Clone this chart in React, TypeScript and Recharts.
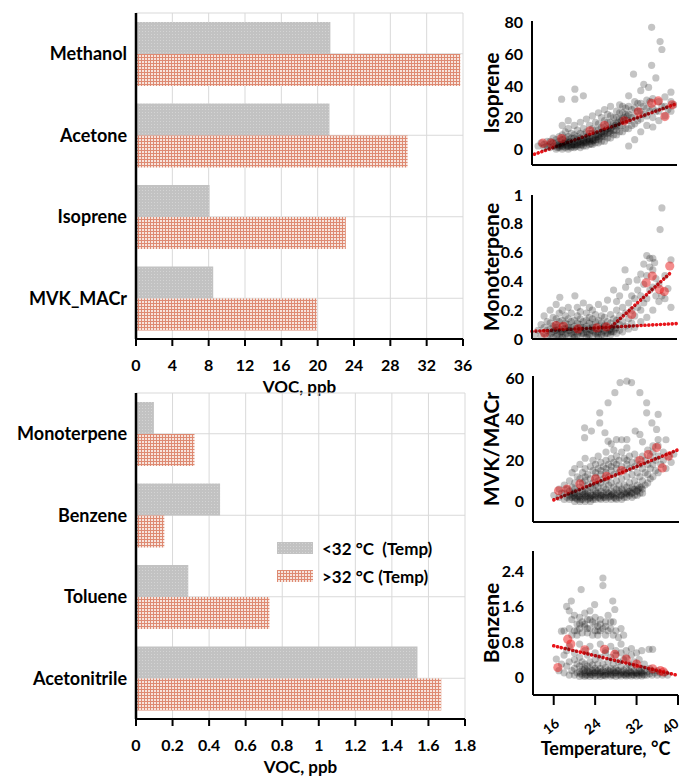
import React from "react";
import {
  BarChart,
  Bar,
  XAxis,
  YAxis,
  CartesianGrid,
  Legend,
  ScatterChart,
  Scatter,
  ReferenceLine,
} from "recharts";

// bar panels
const topCategories = ["Methanol", "Acetone", "Isoprene", "MVK_MACr"];
const topBelow32 = [21.4, 21.3, 8.1, 8.5];
const topAbove32 = [35.7, 29.9, 23.1, 19.9];
const topTicks = [0, 4, 8, 12, 16, 20, 24, 28, 32, 36];

const bottomCategories = ["Monoterpene", "Benzene", "Toluene", "Acetonitrile"];
const bottomBelow32 = [0.098, 0.46, 0.286, 1.54];
const bottomAbove32 = [0.32, 0.155, 0.73, 1.67];
const bottomTicks = [0, 0.2, 0.4, 0.6, 0.8, 1, 1.2, 1.4, 1.6, 1.8];

const seriesNames = ["<32 °C  (Temp)", ">32 °C (Temp)"];
const seriesFills = ["url(#grayDots)", "url(#redGrid)"];

// scatter panels: [temperature, value]
const isopreneGray = [
  [17, 2], [17.5, 4], [18, 1], [18, 3], [18.5, 5], [18.5, 2],
  [19, 1], [19, 3], [19, 5], [19.5, 2], [19.5, 4], [19.5, 7],
  [20, 0], [20, 2], [20, 4], [20, 6], [20.5, 1], [20.5, 3], [20.5, 5], [20.5, 8],
  [21, 0], [21, 2], [21, 4], [21, 6], [21, 9], [21.5, 1], [21.5, 3], [21.5, 5], [21.5, 7], [21.5, 11],
  [22, 0], [22, 2], [22, 4], [22, 6], [22, 8], [22, 13], [22.5, 1], [22.5, 3], [22.5, 5], [22.5, 7], [22.5, 10],
  [23, 1], [23, 3], [23, 5], [23, 7], [23, 9], [23, 15], [23.5, 2], [23.5, 4], [23.5, 6], [23.5, 8], [23.5, 12],
  [24, 1], [24, 3], [24, 5], [24, 7], [24, 10], [24, 17], [24.5, 2], [24.5, 4], [24.5, 6], [24.5, 9], [24.5, 13],
  [25, 2], [25, 4], [25, 6], [25, 8], [25, 11], [25, 19], [25.5, 3], [25.5, 5], [25.5, 7], [25.5, 10], [25.5, 15],
  [26, 3], [26, 5], [26, 7], [26, 10], [26, 13], [26, 21], [26.5, 4], [26.5, 6], [26.5, 9], [26.5, 12], [26.5, 17],
  [27, 4], [27, 6], [27, 9], [27, 12], [27, 16], [27, 23], [27.5, 5], [27.5, 8], [27.5, 11], [27.5, 14], [27.5, 20],
  [28, 5], [28, 8], [28, 11], [28, 14], [28, 18], [28, 25], [28.5, 7], [28.5, 10], [28.5, 13], [28.5, 17], [28.5, 22],
  [29, 7], [29, 10], [29, 13], [29, 17], [29, 21], [29, 27], [29.5, 9], [29.5, 12], [29.5, 16], [29.5, 20],
  [30, 9], [30, 12], [30, 16], [30, 20], [30, 24], [30.5, 11], [30.5, 15], [30.5, 19], [30.5, 23], [30.5, 28],
  [31, 11], [31, 15], [31, 19], [31, 23], [31, 27], [31.5, 13], [31.5, 18], [31.5, 22], [31.5, 26],
  [32, 2], [32, 13], [32, 18], [32, 22], [32, 27], [32, 33.7], [32.5, 15], [32.5, 20], [32.5, 25],
  [33, 6], [33, 16], [33, 21], [33, 26], [33, 30], [33.5, 18], [33.5, 24], [33.5, 29],
  [34, 11], [34, 19], [34, 24], [34, 29], [34, 37], [34.5, 41], [34.5, 22], [34.5, 27],
  [35, 15], [35, 21], [35, 26], [35, 31], [35.3, 39], [35.5, 24], [35.5, 30],
  [36, 14], [36, 20], [36, 26], [36, 32], [35.8, 53], [35.8, 77], [36.5, 45], [36.5, 24],
  [37, 18], [37, 24], [37, 30], [37.2, 68], [37.5, 63], [37.5, 27],
  [38, 21], [38, 27], [38, 33], [38.5, 25], [39, 24], [39, 30], [39, 36], [39.5, 28],
  [20.9, 31.6], [23.1, 37.9], [23.1, 31.6], [24.5, 33.7], [32.8, 47.4], [22, 18], [21, 15],
  [20.2, 1], [20.8, 2.5], [21.2, 3.5], [21.8, 2], [22.2, 4.5], [22.8, 3], [23.2, 1.5], [23.8, 5],
  [24.2, 2.5], [24.8, 4], [25.2, 6.5], [25.8, 3.5], [26.2, 5.5], [26.8, 8], [27.2, 7], [27.8, 9.5],
  [28.2, 12], [28.8, 11], [29.2, 14], [29.8, 15], [30.2, 17], [30.8, 18], [31.2, 20], [31.8, 21],
  [21, 1.5], [22, 1.5], [23, 2.5], [24, 4], [25, 5], [26, 6], [27, 8], [28, 9.5], [29, 11.5], [30, 14],
  [20.5, 2], [21.5, 4], [22.5, 2], [23.5, 3], [24.5, 5], [25.5, 6], [26.5, 7.5], [27.5, 10],
];
const isopreneRed = [
  [17.8, 3.8], [19.2, 3.8], [20.9, 6.7], [25.6, 11.6], [28, 15], [31.3, 17.9],
  [33.6, 23.6], [35.8, 29], [36.9, 30.5], [38, 20.6], [39.2, 28],
];
const isopreneTrend = [[16.4, -3.2, 39.7, 28.4]];

const monoGray = [
  [16.5, 0.03], [17, 0.06], [17.5, 0.02], [17.5, 0.1], [18, 0.04], [18, 0.08], [18, 0.16], [18.5, 0.02], [18.5, 0.06], [18.5, 0.12],
  [19, 0.03], [19, 0.07], [19, 0.11], [19, 0.2], [19.5, 0.01], [19.5, 0.05], [19.5, 0.09], [19.5, 0.15],
  [20, 0.02], [20, 0.06], [20, 0.1], [20, 0.14], [20, 0.24], [20.5, 0.03], [20.5, 0.07], [20.5, 0.12], [20.5, 0.18], [20.6, 0.29],
  [21, 0.01], [21, 0.05], [21, 0.09], [21, 0.13], [21, 0.2], [21.5, 0.03], [21.5, 0.07], [21.5, 0.11], [21.5, 0.16],
  [22, 0.02], [22, 0.06], [22, 0.1], [22, 0.14], [22, 0.22], [22.5, 0.04], [22.5, 0.08], [22.5, 0.12], [22.5, 0.18],
  [23, 0.01], [23, 0.05], [23, 0.09], [23, 0.13], [23.1, 0.3], [23.5, 0.03], [23.5, 0.07], [23.5, 0.11], [23.5, 0.16], [23.5, 0.22],
  [24, 0.02], [24, 0.06], [24, 0.1], [24, 0.14], [24, 0.19], [24.5, 0.04], [24.5, 0.08], [24.5, 0.12], [24.5, 0.25],
  [25, 0.01], [25, 0.05], [25, 0.09], [25, 0.13], [25, 0.18], [25.5, 0.03], [25.5, 0.07], [25.5, 0.11], [25.5, 0.15], [25.5, 0.22],
  [26, 0.02], [26, 0.06], [26, 0.1], [26, 0.14], [26, 0.2], [26.5, 0.04], [26.5, 0.08], [26.5, 0.12], [26.5, 0.17],
  [27, 0.01], [27, 0.05], [27, 0.09], [27, 0.13], [27, 0.24], [27.5, 0.03], [27.5, 0.07], [27.5, 0.11], [27.5, 0.16],
  [28, 0.02], [28, 0.06], [28, 0.1], [28, 0.15], [28, 0.21], [28.5, 0.04], [28.5, 0.08], [28.5, 0.12], [28.5, 0.27],
  [29, 0.03], [29, 0.07], [29, 0.11], [29, 0.17], [29.5, 0.34], [29.5, 0.05], [29.5, 0.09], [29.5, 0.14],
  [30, 0.04], [30, 0.08], [30, 0.13], [30, 0.2], [30, 0.26], [30.5, 0.06], [30.5, 0.1], [30.5, 0.16], [30.5, 0.3],
  [31, 0.05], [31, 0.12], [31, 0.22], [31.4, 0.48], [31.5, 0.09], [31.5, 0.18], [31.5, 0.36],
  [32, 0.07], [32, 0.14], [32, 0.25], [32, 0.4], [32.5, 0.11], [32.5, 0.2], [32.5, 0.3],
  [33, 0.08], [33, 0.16], [33, 0.28], [33.4, 0.41], [33.5, 0.22], [33.5, 0.34],
  [34, 0.12], [34, 0.2], [34, 0.3], [34, 0.45], [34.5, 0.25], [34.5, 0.38], [34.5, 0.52],
  [35, 0.15], [35, 0.28], [35, 0.44], [35, 0.58], [35.5, 0.34], [35.5, 0.5], [35.5, 0.56],
  [36, 0.2], [36, 0.36], [36, 0.48], [36, 0.56], [36.5, 0.3], [36.5, 0.42], [36.3, 0.53],
  [37, 0.26], [37, 0.38], [37.2, 0.76], [37.5, 0.91], [37.5, 0.3],
  [38, 0.28], [38, 0.44], [38.5, 0.35], [39, 0.55], [39, 0.22],
  [19.2, 0.04], [19.8, 0.06], [20.2, 0.03], [20.8, 0.05], [21.2, 0.07], [21.8, 0.04], [22.2, 0.06], [22.8, 0.03],
  [23.2, 0.07], [23.8, 0.05], [24.2, 0.04], [24.8, 0.07], [25.2, 0.03], [25.8, 0.06], [26.2, 0.05], [26.8, 0.03],
  [27.2, 0.07], [27.8, 0.05], [28.2, 0.04], [28.8, 0.06], [29.2, 0.05], [29.8, 0.07],
  [20, 0.08], [22, 0.08], [24, 0.08], [26, 0.08], [28, 0.09], [21, 0.03], [23, 0.03], [25, 0.04], [27, 0.04], [29, 0.05],
];
const monoRed = [
  [18.1, 0.04], [20, 0.093], [21.2, 0.088], [23.6, 0.07], [26.7, 0.077], [28.3, 0.084],
  [32.5, 0.17], [34.9, 0.39], [35.9, 0.437], [37.1, 0.344], [37.9, 0.33], [38.8, 0.507],
];
const monoTrend = [
  [16, 0.053, 40, 0.107],
  [29.2, 0.088, 39.2, 0.47],
];

const mvkGray = [
  [16, 3], [17, 2], [17, 6], [17.5, 4], [18, 1], [18, 4], [18, 8], [18.5, 2], [18.5, 6],
  [19, 1], [19, 3], [19, 5], [19, 10], [19.5, 2], [19.5, 4], [19.5, 7], [19.5, 14],
  [20, 0], [20, 2], [20, 4], [20, 6], [20, 9], [20, 16], [20.5, 1], [20.5, 3], [20.5, 5], [20.5, 12],
  [21, 0], [21, 2], [21, 4], [21, 7], [21, 11], [21, 18], [21.5, 1], [21.5, 3], [21.5, 5], [21.5, 9], [21.5, 14],
  [22, 0], [22, 2], [22, 4], [22, 6], [22, 10], [22, 16], [22, 21], [22.5, 1], [22.5, 3], [22.5, 5], [22.5, 8], [22.5, 13],
  [23, 0], [23, 2], [23, 4], [23, 7], [23, 11], [23, 17], [23.5, 1], [23.5, 3], [23.5, 6], [23.5, 9], [23.5, 15], [23.5, 20],
  [24, 1], [24, 3], [24, 5], [24, 8], [24, 12], [24, 18], [24.5, 2], [24.5, 4], [24.5, 7], [24.5, 10], [24.5, 16], [24.5, 22],
  [25, 1], [25, 3], [25, 5], [25, 9], [25, 13], [25, 19], [25.5, 2], [25.5, 4], [25.5, 7], [25.5, 11], [25.5, 17],
  [26, 1], [26, 3], [26, 6], [26, 10], [26, 14], [26, 20], [26, 24], [26.5, 2], [26.5, 4], [26.5, 8], [26.5, 12], [26.5, 18],
  [27, 1], [27, 3], [27, 5], [27, 9], [27, 15], [27, 21], [27.5, 2], [27.5, 4], [27.5, 7], [27.5, 13], [27.5, 19], [27.5, 25],
  [28, 1], [28, 3], [28, 6], [28, 10], [28, 16], [28, 22], [28.5, 2], [28.5, 5], [28.5, 8], [28.5, 14], [28.5, 20],
  [29, 1], [29, 3], [29, 6], [29, 11], [29, 17], [29, 24], [29.5, 2], [29.5, 4], [29.5, 8], [29.5, 15], [29.5, 21],
  [30, 2], [30, 4], [30, 7], [30, 12], [30, 18], [30, 26], [30.5, 3], [30.5, 5], [30.5, 9], [30.5, 16], [30.5, 22],
  [31, 2], [31, 4], [31, 7], [31, 13], [31, 19], [31.5, 3], [31.5, 6], [31.5, 10], [31.5, 17], [31.5, 23],
  [32, 3], [32, 5], [32, 8], [32, 14], [32, 20], [32.5, 4], [32.5, 7], [32.5, 12], [32.5, 18],
  [33, 4], [33, 6], [33, 10], [33, 16], [33, 22], [33.5, 8], [33.5, 14], [33.5, 20],
  [34, 9], [34, 13], [34, 18], [34, 25], [34.5, 11], [34.5, 16], [34.5, 22],
  [35, 12], [35, 18], [35, 24], [35.5, 15], [35.5, 20], [36, 14], [36, 22], [36, 27], [36.5, 18],
  [37, 20], [37, 24], [37.5, 16], [38, 22], [38.5, 19], [39, 23],
  [26.4, 48], [27.7, 52.9], [28.7, 57.8], [30, 58.5], [30.9, 57.8], [32.5, 52.9], [33.8, 48],
  [33.8, 43.1], [34.8, 38.2], [35.7, 35], [24.8, 43.1], [24.8, 38.2], [25.8, 33.4], [26.4, 29.3],
  [21.9, 35.8], [23.2, 34.2], [21.9, 31], [28, 30.1], [29, 30], [30, 30.1], [31.6, 34.2],
  [32.5, 32.6], [36, 30.1], [36, 42.3], [27, 28], [33, 29], [35, 27], [37.5, 30],
  [19.2, 2], [19.8, 3], [20.2, 1.5], [20.8, 2.5], [21.2, 1], [21.8, 3.5], [22.2, 2.5], [22.8, 1.5],
  [23.2, 3], [23.8, 2], [24.2, 4], [24.8, 1.5], [25.2, 3], [25.8, 2], [26.2, 4.5], [26.8, 2.5],
  [27.2, 3.5], [27.8, 1.5], [28.2, 4], [28.8, 3], [29.2, 5], [29.8, 3.5], [30.2, 5], [30.8, 4],
  [31.2, 6], [31.8, 5], [32.2, 6], [32.8, 7], [22, 12], [24, 14], [26, 16], [28, 18], [30, 20], [25, 15], [27, 17],
];
const mvkRed = [
  [16.9, 5.2], [18.5, 6], [21, 8.5], [24, 11], [26.1, 12.2], [29, 15],
  [32.5, 20], [34.1, 22.8], [35.7, 26.2], [36.8, 16.3], [38, 22],
];
const mvkTrend = [[16, 0.8, 39.6, 24.9]];

const benzeneGray = [
  [16.5, 0.41], [17, 0.15], [17.5, 0.3], [18, 0.1], [18, 0.5], [18.5, 0.25], [19, 0.05], [19, 0.35], [19.5, 0.15],
  [20, 0.05], [20, 0.2], [20, 0.4], [20.5, 0.1], [20.5, 0.3],
  [21, 0.02], [21, 0.12], [21, 0.25], [21, 0.45], [21.5, 0.05], [21.5, 0.18], [21.5, 0.35],
  [22, 0.02], [22, 0.1], [22, 0.2], [22, 0.3], [22.5, 0.05], [22.5, 0.15], [22.5, 0.25], [22.5, 0.5],
  [23, 0.02], [23, 0.1], [23, 0.2], [23, 0.35], [23.5, 0.05], [23.5, 0.15], [23.5, 0.28],
  [24, 0.02], [24, 0.1], [24, 0.2], [24, 0.4], [24.5, 0.05], [24.5, 0.15], [24.5, 0.3],
  [25, 0.02], [25, 0.1], [25, 0.2], [25, 0.45], [25.5, 0.05], [25.5, 0.15], [25.5, 0.3],
  [26, 0.03], [26, 0.12], [26, 0.22], [26, 0.55], [26.5, 0.06], [26.5, 0.16], [26.5, 0.35],
  [27, 0.03], [27, 0.1], [27, 0.2], [27, 0.45], [27.5, 0.05], [27.5, 0.15], [27.5, 0.3],
  [28, 0.02], [28, 0.1], [28, 0.2], [28, 0.5], [28.5, 0.05], [28.5, 0.15], [28.5, 0.35],
  [29, 0.03], [29, 0.1], [29, 0.25], [29, 0.55], [29.5, 0.06], [29.5, 0.16], [29.5, 0.4],
  [30, 0.03], [30, 0.1], [30, 0.2], [30, 0.45], [30.5, 0.05], [30.5, 0.15], [30.5, 0.3],
  [31, 0.03], [31, 0.1], [31, 0.22], [31, 0.5], [31.5, 0.05], [31.5, 0.15], [31.5, 0.35],
  [32, 0.03], [32, 0.1], [32, 0.25], [32.5, 0.05], [32.5, 0.15], [32.5, 0.4],
  [33, 0.03], [33, 0.1], [33, 0.2], [33.5, 0.05], [33.5, 0.15], [33.5, 0.3],
  [34, 0.05], [34, 0.12], [34.4, 0.63], [34.5, 0.08], [34.5, 0.2], [35, 0.05], [35, 0.15], [35.1, 0.63],
  [35.5, 0.1], [36, 0.05], [36, 0.15], [36.5, 0.1], [37, 0.05], [37.5, 0.1], [38, 0.05],
  [19, 1.1], [19.5, 0.95], [19.5, 1.3], [20, 1.05], [20, 1.4], [20.5, 0.95], [20.5, 1.2], [21, 1.1], [21, 1.35],
  [21.5, 1.0], [21.5, 1.25], [22, 1.15], [22, 1.45], [22.5, 1.0], [22.5, 1.3], [23, 1.1], [23, 1.5],
  [23.5, 0.95], [23.5, 1.25], [24, 1.05], [24, 1.35], [24.5, 1.15], [24.5, 0.95], [25, 1.05], [25, 1.3],
  [25.5, 1.1], [26, 0.95], [26, 1.25], [26.5, 1.05], [26.5, 1.4], [27, 1.1], [27.5, 0.95], [27.5, 1.25],
  [28, 1.05], [28.5, 0.9], [29, 1.1], [29.5, 0.95],
  [18.5, 0.6], [19, 0.7], [20, 0.55], [21, 0.75], [22, 0.6], [23, 0.7], [24, 0.55], [25, 0.75],
  [26, 0.6], [27, 0.7], [28, 0.6], [29, 0.75], [30, 0.6], [31, 0.65], [32, 0.55], [33, 0.6],
  [25.5, 2.24], [25.5, 2.07], [21.3, 1.98], [19.4, 1.72], [23.9, 1.64], [27.4, 1.72], [27.8, 1.53],
  [17.5, 1.04], [18, 1.05], [18.5, 1.6], [19, 1.5],
  [21.2, 0.08], [21.8, 0.15], [22.2, 0.05], [22.8, 0.12], [23.2, 0.06], [23.8, 0.1], [24.2, 0.15], [24.8, 0.07],
  [25.2, 0.12], [25.8, 0.05], [26.2, 0.08], [26.8, 0.14], [27.2, 0.06], [27.8, 0.1], [28.2, 0.15], [28.8, 0.07],
  [29.2, 0.12], [29.8, 0.05], [30.2, 0.08], [30.8, 0.12], [31.2, 0.06], [31.8, 0.1], [32.2, 0.08], [32.8, 0.12], [33.2, 0.07],
  [22, 1.2], [24, 1.2], [26, 1.15], [21, 1.2], [23, 1.3], [25, 1.2], [27, 1.25], [20.5, 1.05], [22.5, 1.1], [24.5, 1.05],
];
const benzeneRed = [
  [16.8, 0.22], [18.7, 0.86], [19.3, 0.75], [22, 0.62], [25.8, 0.63], [27.8, 0.52],
  [30, 0.41], [32, 0.3], [35.1, 0.19], [36.6, 0.15], [37.2, 0.12],
];
const benzeneTrend = [[16, 0.71, 39.7, 0.05]];

const black = { stroke: "#000", strokeWidth: 2 };
const boldTick = { fill: "#000", fontSize: 16, fontWeight: 700 };

function LegendBox() {
  return (
    <div style={{ fontSize: 17, fontWeight: 700, color: "#000" }}>
      {seriesNames.map((n, i) => (
        <div key={n} style={{ display: "flex", alignItems: "center", height: 28 }}>
          <svg width={36} height={12} style={{ marginRight: 9 }}>
            <rect width={36} height={12} fill={seriesFills[i]} />
          </svg>
          <span style={{ whiteSpace: "pre" }}>{n}</span>
        </div>
      ))}
    </div>
  );
}

function VocBars({ top, categories, below, above, domain, ticks, right, legend }) {
  const data = categories.map((name, i) => ({ name, below: below[i], above: above[i] }));
  return (
    <div style={{ position: "absolute", left: 0, top }}>
      <BarChart
        width={480}
        height={400}
        data={data}
        layout="vertical"
        margin={{ top: 13, right, bottom: 0, left: 0 }}
        barSize={32}
        barGap={0}
      >
        <CartesianGrid stroke="#d9d9d9" />
        <XAxis
          type="number"
          domain={domain}
          ticks={ticks}
          interval={0}
          allowDataOverflow
          axisLine={black}
          tickLine={black}
          tickSize={7}
          tickMargin={14}
          height={61}
          tick={boldTick}
          label={{ value: "VOC, ppb", position: "insideBottom", offset: 7, fill: "#000", fontSize: 17, fontWeight: 700 }}
        />
        <YAxis
          type="category"
          dataKey="name"
          width={136}
          axisLine={{ stroke: "#000", strokeWidth: 2.5 }}
          tickLine={false}
          tickSize={0}
          tickMargin={9}
          tick={{ fill: "#000", fontSize: 18, fontWeight: 700 }}
        />
        <Bar dataKey="below" name={seriesNames[0]} fill={seriesFills[0]} isAnimationActive={false} />
        <Bar dataKey="above" name={seriesNames[1]} fill={seriesFills[1]} isAnimationActive={false} />
        {legend && (
          <Legend
            layout="horizontal"
            verticalAlign="middle"
            align="center"
            wrapperStyle={{ left: 277, top: 154, width: 200 }}
            content={() => <LegendBox />}
          />
        )}
      </BarChart>
    </div>
  );
}

const GrayDot = (p) => <circle cx={p.cx} cy={p.cy} r={3.6} fill="#000" fillOpacity={0.23} />;
const RedDot = (p) => <circle cx={p.cx} cy={p.cy} r={4.6} fill="#e60000" fillOpacity={0.45} />;

function TempTick({ x, y, payload }) {
  // x is in chart coordinates; keep the last label inside the chart
  const cx = Math.min(x - 3, 200);
  const cy = y + 21;
  return (
    <text x={cx} y={cy} textAnchor="middle" dominantBaseline="central" transform={`rotate(-38 ${cx} ${cy})`} fill="#000" fontSize={14} fontWeight={700}>
      {payload.value}
    </text>
  );
}

function TempScatter(p) {
  const grayData = p.gray.map(([x, y]) => ({ x, y }));
  const redData = p.red.map(([x, y]) => ({ x, y }));
  return (
    <div style={{ position: "absolute", left: 470, top: p.top }}>
      <ScatterChart width={214} height={p.height} margin={p.margin}>
        <XAxis
          type="number"
          dataKey="x"
          domain={p.xDomain}
          ticks={p.xTicks}
          interval={0}
          allowDataOverflow
          axisLine={black}
          tickLine={black}
          tickSize={p.xLabel ? 10 : 8}
          tickMargin={0}
          height={p.xHeight}
          tick={p.xLabel ? <TempTick /> : false}
          label={p.xLabel ? { value: p.xLabel, position: "insideBottom", offset: 5, fill: "#000", fontSize: 18, fontWeight: 700 } : undefined}
        />
        <YAxis
          yAxisId="lab"
          type="number"
          dataKey="y"
          domain={p.yDomain}
          ticks={p.yTicks}
          interval={0}
          allowDataOverflow
          width={p.yWidth + 10}
          axisLine={false}
          tickLine={false}
          tickSize={0}
          tickMargin={9}
          tick={{ fill: "#000", fontSize: 16, fontWeight: 700 }}
          label={{ value: p.title, angle: -90, position: "insideLeft", offset: 22, style: { textAnchor: "middle" }, fill: "#000", fontSize: 21, fontWeight: 700 }}
        />
        <YAxis
          yAxisId="mark"
          type="number"
          dataKey="y"
          domain={p.yDomain}
          ticks={p.yMarks}
          interval={0}
          allowDataOverflow
          mirror
          axisLine={black}
          tickLine={black}
          tickSize={6}
          tick={false}
        />
        <Scatter yAxisId="lab" data={grayData} shape={GrayDot} isAnimationActive={false} />
        <Scatter yAxisId="mark" data={redData} shape={RedDot} isAnimationActive={false} />
        {p.trends.map((t, i) => (
          <ReferenceLine
            key={i}
            yAxisId="mark"
            segment={[{ x: t[0], y: t[1] }, { x: t[2], y: t[3] }]}
            stroke="#e8141a"
            strokeWidth={3.6}
            strokeDasharray="0.1 3.8"
            strokeLinecap="round"
          />
        ))}
      </ScatterChart>
    </div>
  );
}

export default function App() {
  return (
    <div
      style={{
        position: "absolute",
        left: 0,
        top: 0,
        width: 684,
        height: 777,
        background: "#fff",
        overflow: "hidden",
        fontFamily: "Lato, sans-serif",
        fontWeight: 700,
      }}
    >
      <svg width={0} height={0} style={{ position: "absolute" }}>
        <defs>
          <pattern id="grayDots" width={3} height={3} patternUnits="userSpaceOnUse">
            <rect width={3} height={3} fill="#c2c2c2" />
            <rect x={1} y={1} width={1} height={1} fill="#d4d4d4" />
          </pattern>
          <pattern id="redGrid" width={3} height={3} patternUnits="userSpaceOnUse">
            <rect width={3} height={3} fill="#f7e4dd" />
            <path d="M0 0.5H3M0.5 0V3" stroke="#de8a72" strokeWidth={1} />
          </pattern>
        </defs>
      </svg>
      <VocBars top={0} categories={topCategories} below={topBelow32} above={topAbove32} domain={[0, 36]} ticks={topTicks} right={17} />
      <VocBars top={380} categories={bottomCategories} below={bottomBelow32} above={bottomAbove32} domain={[0, 1.8]} ticks={bottomTicks} right={15} legend />
      <TempScatter
        top={0} height={180} margin={{ top: 21, right: 7, bottom: 5, left: 0 }} yWidth={52} xHeight={10}
        xDomain={[16, 40]} xTicks={[16, 20, 24, 28, 32, 36, 40]}
        yDomain={[-10, 81]} yTicks={[0, 20, 40, 60, 80]} yMarks={[10, 30, 50, 70]}
        title="Isoprene" gray={isopreneGray} red={isopreneRed} trends={isopreneTrend}
      />
      <TempScatter
        top={180} height={170} margin={{ top: 15, right: 7, bottom: 1, left: 0 }} yWidth={52} xHeight={10}
        xDomain={[16, 40]} xTicks={[16, 20, 24, 28, 32, 36, 40]}
        yDomain={[0, 1]} yTicks={[0, 0.2, 0.4, 0.6, 0.8, 1]} yMarks={[0.1, 0.3, 0.5, 0.7, 0.9]}
        title="Monoterpene" gray={monoGray} red={monoRed} trends={monoTrend}
      />
      <TempScatter
        top={360} height={175} margin={{ top: 16, right: 5, bottom: 3, left: 0 }} yWidth={53} xHeight={10}
        xDomain={[12, 40]} xTicks={[16, 20, 24, 28, 32, 36, 40]}
        yDomain={[-10, 61]} yTicks={[0, 20, 40, 60]} yMarks={[10, 30, 50]}
        title="MVK/MACr" gray={mvkGray} red={mvkRed} trends={mvkTrend}
      />
      <TempScatter
        top={535} height={242} margin={{ top: 16, right: 6, bottom: 17, left: 0 }} yWidth={53} xHeight={65}
        xDomain={[12, 40]} xTicks={[16, 24, 32, 40]} xLabel="Temperature, °C"
        yDomain={[-0.4, 2.85]} yTicks={[0, 0.8, 1.6, 2.4]} yMarks={[0.4, 1.2, 2.0, 2.8]}
        title="Benzene" gray={benzeneGray} red={benzeneRed} trends={benzeneTrend}
      />
    </div>
  );
}
